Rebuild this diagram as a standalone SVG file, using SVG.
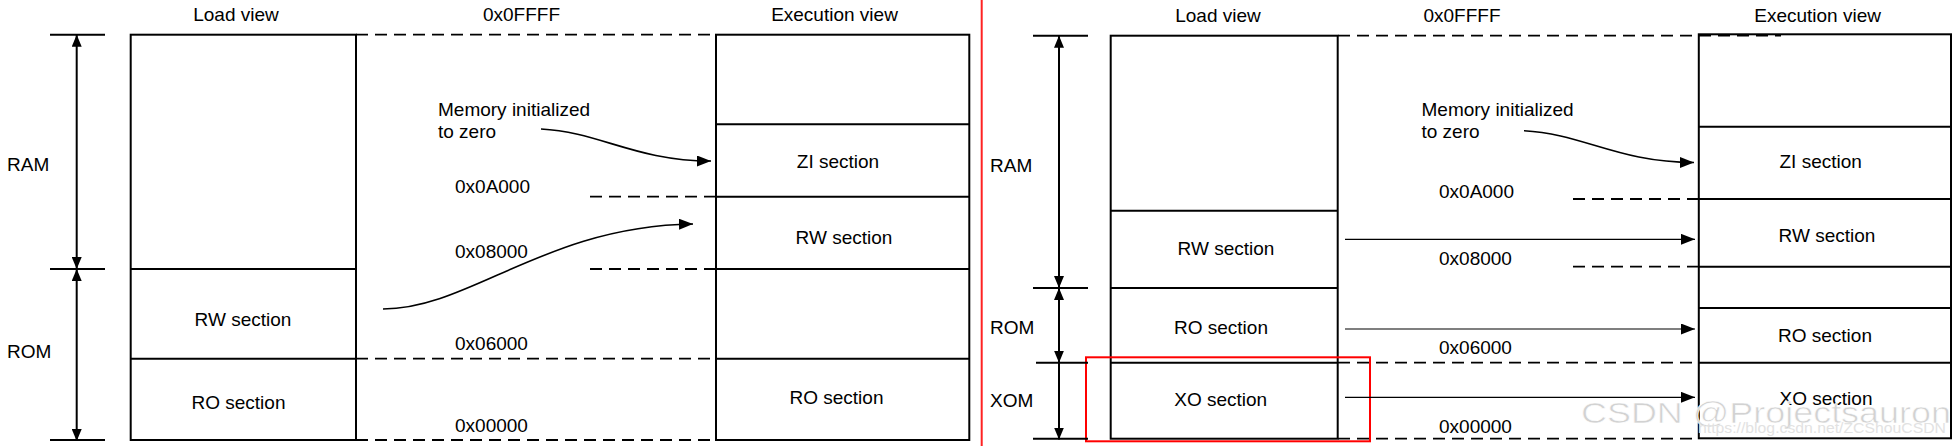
<svg xmlns="http://www.w3.org/2000/svg" width="1957" height="446" viewBox="0 0 1957 446">
<style>
text{font-family:"Liberation Sans",Arial,sans-serif;font-size:19px;fill:#000}
.m{text-anchor:middle}
.box{fill:none;stroke:#000;stroke-width:2}
.ln{stroke:#000;stroke-width:2;fill:none}
.dash{stroke:#000;stroke-width:1.8;stroke-dasharray:12 7;fill:none}
.thin{stroke:#000;stroke-width:1.2;fill:none}
.crv{stroke:#000;stroke-width:1.6;fill:none}
.wm{font-size:30px;fill:#d2d2d2;stroke:#fff;stroke-width:0.6}
.wm2{font-size:15px;fill:#e2e2e2}
</style>
<defs>
<marker id="ah" viewBox="0 0 12 10" refX="12" refY="5" markerWidth="12" markerHeight="10" markerUnits="userSpaceOnUse" orient="auto-start-reverse"><path d="M0,0 L12,5 L0,10 z" fill="#000"/></marker>
<marker id="ah2" viewBox="0 0 14 11" refX="14" refY="5.5" markerWidth="14" markerHeight="11" markerUnits="userSpaceOnUse" orient="auto"><path d="M0,0 L14,5.5 L0,11 z" fill="#000"/></marker>
</defs>
<rect width="1957" height="446" fill="#fff"/>

<g id="left-panel">
 <g id="left-labels">
  <text class="m" x="236" y="21">Load view</text>
  <text class="m" x="521.5" y="21">0x0FFFF</text>
  <text class="m" x="834.5" y="21">Execution view</text>
  <text x="7" y="171">RAM</text>
  <text x="7" y="357.7">ROM</text>
 </g>
 <g id="left-load">
  <rect class="box" x="130.7" y="34.7" width="225.3" height="405.3"/>
  <line class="ln" x1="130.7" y1="269" x2="356" y2="269"/>
  <line class="ln" x1="130.7" y1="358.7" x2="356" y2="358.7"/>
  <text class="m" x="243" y="326">RW section</text>
  <text class="m" x="238.5" y="409">RO section</text>
 </g>
 <g id="left-exec">
  <rect class="box" x="716" y="34.7" width="253.3" height="405.3"/>
  <line class="ln" x1="716" y1="124.3" x2="969.3" y2="124.3"/>
  <line class="ln" x1="716" y1="196.7" x2="969.3" y2="196.7"/>
  <line class="ln" x1="716" y1="269" x2="969.3" y2="269"/>
  <line class="ln" x1="716" y1="358.7" x2="969.3" y2="358.7"/>
  <text class="m" x="838" y="168">ZI section</text>
  <text class="m" x="844" y="244">RW section</text>
  <text class="m" x="836.5" y="404.3">RO section</text>
 </g>
 <g id="left-addresses">
  <text x="438" y="115.7">Memory initialized</text>
  <text x="438" y="137.7">to zero</text>
  <text x="455" y="192.7">0x0A000</text>
  <text x="455" y="258.3">0x08000</text>
  <text x="455" y="350">0x06000</text>
  <text x="455" y="432">0x00000</text>
 </g>
</g>

<g id="right-panel">
 <g id="right-labels">
  <text class="m" x="1218" y="21.7">Load view</text>
  <text class="m" x="1462" y="21.7">0x0FFFF</text>
  <text class="m" x="1817.6" y="21.7">Execution view</text>
  <text x="990" y="171.7">RAM</text>
  <text x="990" y="334.3">ROM</text>
  <text x="990" y="406.7">XOM</text>
 </g>
 <g id="right-load">
  <rect class="box" x="1110.7" y="35.7" width="227" height="403"/>
  <line class="ln" x1="1110.7" y1="210.7" x2="1337.7" y2="210.7"/>
  <line class="ln" x1="1110.7" y1="288" x2="1337.7" y2="288"/>
  <line class="ln" x1="1110.7" y1="362.7" x2="1337.7" y2="362.7"/>
  <text class="m" x="1226" y="255">RW section</text>
  <text class="m" x="1221" y="334">RO section</text>
  <text class="m" x="1220.7" y="406">XO section</text>
 </g>
 <g id="right-exec">
  <rect class="box" x="1698.8" y="34.3" width="252.2" height="404"/>
  <line class="ln" x1="1698.8" y1="126.7" x2="1951" y2="126.7"/>
  <line class="ln" x1="1698.8" y1="199" x2="1951" y2="199"/>
  <line class="ln" x1="1698.8" y1="266.7" x2="1951" y2="266.7"/>
  <line class="ln" x1="1698.8" y1="308" x2="1951" y2="308"/>
  <line class="ln" x1="1698.8" y1="362.7" x2="1951" y2="362.7"/>
  <text class="m" x="1820.7" y="168.3">ZI section</text>
  <text class="m" x="1827" y="241.7">RW section</text>
  <text class="m" x="1825" y="341.7">RO section</text>
  <text class="m" x="1826" y="405">XO section</text>
 </g>
 <g id="right-addresses">
  <text x="1421.5" y="116.3">Memory initialized</text>
  <text x="1421.5" y="138.3">to zero</text>
  <text x="1439" y="197.5">0x0A000</text>
  <text x="1439" y="265">0x08000</text>
  <text x="1439" y="354">0x06000</text>
  <text x="1439" y="432.7">0x00000</text>
 </g>
 <rect id="xo-highlight" x="1086" y="357.3" width="284" height="84" fill="none" stroke="#f00" stroke-width="2"/>
</g>

<g id="connectors">
 <!-- left dimension ticks and arrows -->
 <line class="ln" x1="50" y1="34.7" x2="105" y2="34.7"/>
 <line class="ln" x1="50" y1="269" x2="105" y2="269"/>
 <line class="ln" x1="50" y1="440" x2="105" y2="440"/>
 <line class="ln" x1="76.7" y1="269" x2="76.7" y2="34.7" marker-start="url(#ah)" marker-end="url(#ah)"/>
 <line class="ln" x1="76.7" y1="269" x2="76.7" y2="441" marker-start="url(#ah)" marker-end="url(#ah)"/>
 <!-- left dashed address lines -->
 <line class="dash" x1="356" y1="34.7" x2="716" y2="34.7"/>
 <line class="dash" x1="590" y1="196.7" x2="716" y2="196.7"/>
 <line class="dash" x1="590" y1="269" x2="716" y2="269"/>
 <line class="dash" x1="356" y1="358.7" x2="716" y2="358.7"/>
 <line class="dash" x1="356" y1="440" x2="716" y2="440"/>
 <!-- left curves -->
 <path class="crv" d="M541,129 C600,132 635,161 711,161" marker-end="url(#ah2)"/>
 <path class="crv" d="M383,309 C470,309 545,226 693,224" marker-end="url(#ah2)"/>

 <!-- separator -->
 <line x1="981.7" y1="0" x2="981.7" y2="446" stroke="#f22" stroke-width="2"/>

 <!-- right dimension ticks and arrows -->
 <line class="ln" x1="1033" y1="35.7" x2="1088" y2="35.7"/>
 <line class="ln" x1="1033" y1="288" x2="1088" y2="288"/>
 <line class="ln" x1="1036" y1="362.7" x2="1088" y2="362.7"/>
 <line class="ln" x1="1033" y1="438.7" x2="1088" y2="438.7"/>
 <line class="ln" x1="1059" y1="288" x2="1059" y2="35.7" marker-start="url(#ah)" marker-end="url(#ah)"/>
 <line class="ln" x1="1059" y1="288" x2="1059" y2="362.7" marker-start="url(#ah)" marker-end="url(#ah)"/>
 <line class="ln" x1="1059" y1="362.7" x2="1059" y2="439.5" marker-end="url(#ah)"/>
 <!-- right dashed address lines -->
 <line class="dash" x1="1338" y1="35.7" x2="1781" y2="35.7"/>
 <line class="dash" x1="1573" y1="199" x2="1699" y2="199"/>
 <line class="dash" x1="1573" y1="266.7" x2="1699" y2="266.7"/>
 <line class="dash" x1="1338" y1="362.7" x2="1699" y2="362.7"/>
 <line class="dash" x1="1338" y1="438.7" x2="1699" y2="438.7"/>
 <!-- right curve and straight arrows -->
 <path class="crv" d="M1524,130.7 C1583,133.7 1618,162.5 1694,162.5" marker-end="url(#ah2)"/>
 <line class="thin" x1="1345" y1="239.3" x2="1695" y2="239.3" marker-end="url(#ah2)"/>
 <line class="thin" x1="1345" y1="329" x2="1695" y2="329" marker-end="url(#ah2)"/>
 <line class="thin" x1="1345" y1="397.3" x2="1695" y2="397.3" marker-end="url(#ah2)"/>
</g>

<g id="watermark">
 <text class="wm" x="1581" y="423.3" textLength="370" lengthAdjust="spacingAndGlyphs">CSDN @Projectsauron</text>
 <text class="wm2" x="1698" y="432.7" textLength="248" lengthAdjust="spacingAndGlyphs">https://blog.csdn.net/ZCShouCSDN</text>
</g>
</svg>
